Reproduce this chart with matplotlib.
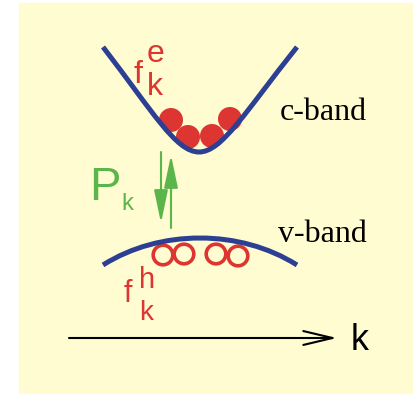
"""Two-band schematic: electrons in the c-band, holes in the v-band, polarisation P_k."""

import matplotlib.pyplot as plt
from matplotlib.patches import Circle, FancyArrowPatch, PathPatch, Rectangle
from matplotlib.path import Path

# --- data (pixel coordinates of the schematic, y downwards) ---
# cubic bezier control points for the two bands
CBAND_X = [103, 153, 176, 199, 222, 245, 297]
CBAND_Y = [47, 112, 152, 152, 152, 112, 47]
VBAND_X = [103, 160, 240, 297]
VBAND_Y = [265, 229, 229, 265]

ELECTRON_X = [171, 188, 212, 230]
ELECTRON_Y = [120, 137, 136, 119]
HOLE_X = [163, 184, 216, 238]
HOLE_Y = [255, 254, 254, 256]

# optical transition arrows: (x, y_start, y_end)
ARROW_DOWN = (161, 152, 223)
ARROW_UP = (171, 228, 155)
K_AXIS = (69, 337, 338)

BLUE = "#2c3f93"
RED = "#dc3532"
GREEN = "#5ab64b"
BG = "#fefcd0"
SANS = "Liberation Sans"
SERIF = "Liberation Serif"

fig = plt.figure(figsize=(4.14, 3.94), dpi=100)
ax = fig.add_axes([0, 0, 1, 1])
ax.set_xlim(0, 414)
ax.set_ylim(394, 0)
ax.axis("off")

ax.add_patch(Rectangle((19, 3), 395, 390, color=BG, zorder=0))

# bands
c_codes = [Path.MOVETO] + [Path.CURVE4] * 6
ax.add_patch(PathPatch(Path(list(zip(CBAND_X, CBAND_Y)), c_codes), fill=False,
                       ec=BLUE, lw=3.6, capstyle="butt", zorder=3))
v_codes = [Path.MOVETO] + [Path.CURVE4] * 3
ax.add_patch(PathPatch(Path(list(zip(VBAND_X, VBAND_Y)), v_codes), fill=False,
                       ec=BLUE, lw=3.6, capstyle="butt", zorder=3))

# electrons and holes
for x, y in zip(ELECTRON_X, ELECTRON_Y):
    ax.add_patch(Circle((x, y), 12, color=RED, lw=0, zorder=2))
for x, y in zip(HOLE_X, HOLE_Y):
    ax.add_patch(Circle((x, y), 9.8, fill=False, ec=RED, lw=2.6, zorder=2))

# transition arrows
for x, y0, y1 in (ARROW_DOWN, ARROW_UP):
    ax.add_patch(FancyArrowPatch((x, y0), (x, y1),
                                 arrowstyle="-|>,head_length=20,head_width=4.2",
                                 mutation_scale=1, shrinkA=0, shrinkB=0,
                                 color=GREEN, lw=1.5, zorder=2))

# k axis
x0, x1, yk = K_AXIS
ax.add_patch(FancyArrowPatch((x0, yk), (x1, yk),
                             arrowstyle="->,head_length=21,head_width=5",
                             mutation_scale=1, shrinkA=0, shrinkB=0,
                             color="black", lw=1.5, zorder=2))

# labels
ax.text(134, 83, "f", color=RED, fontsize=23, family=SANS, va="baseline")
ax.text(147, 62, "e", color=RED, fontsize=23, family=SANS, va="baseline")
ax.text(147, 95, "k", color=RED, fontsize=23, family=SANS, va="baseline")

ax.text(124, 302, "f", color=RED, fontsize=22, family=SANS, va="baseline")
ax.text(139, 288, "h", color=RED, fontsize=21, family=SANS, va="baseline")
ax.text(139, 320, "k", color=RED, fontsize=20, family=SANS, va="baseline")

ax.text(89, 200, "P", color=GREEN, fontsize=34, family=SANS, va="baseline")
ax.text(121, 210, "k", color=GREEN, fontsize=17, family=SANS, va="baseline")

ax.text(280, 120, "c-band", color="black", fontsize=23, family=SERIF, va="baseline")
ax.text(278, 242, "v-band", color="black", fontsize=23, family=SERIF, va="baseline")
ax.text(351, 350, "k", color="black", fontsize=26, family=SANS, va="baseline")

fig.savefig("out.png", dpi=100, facecolor="white")
